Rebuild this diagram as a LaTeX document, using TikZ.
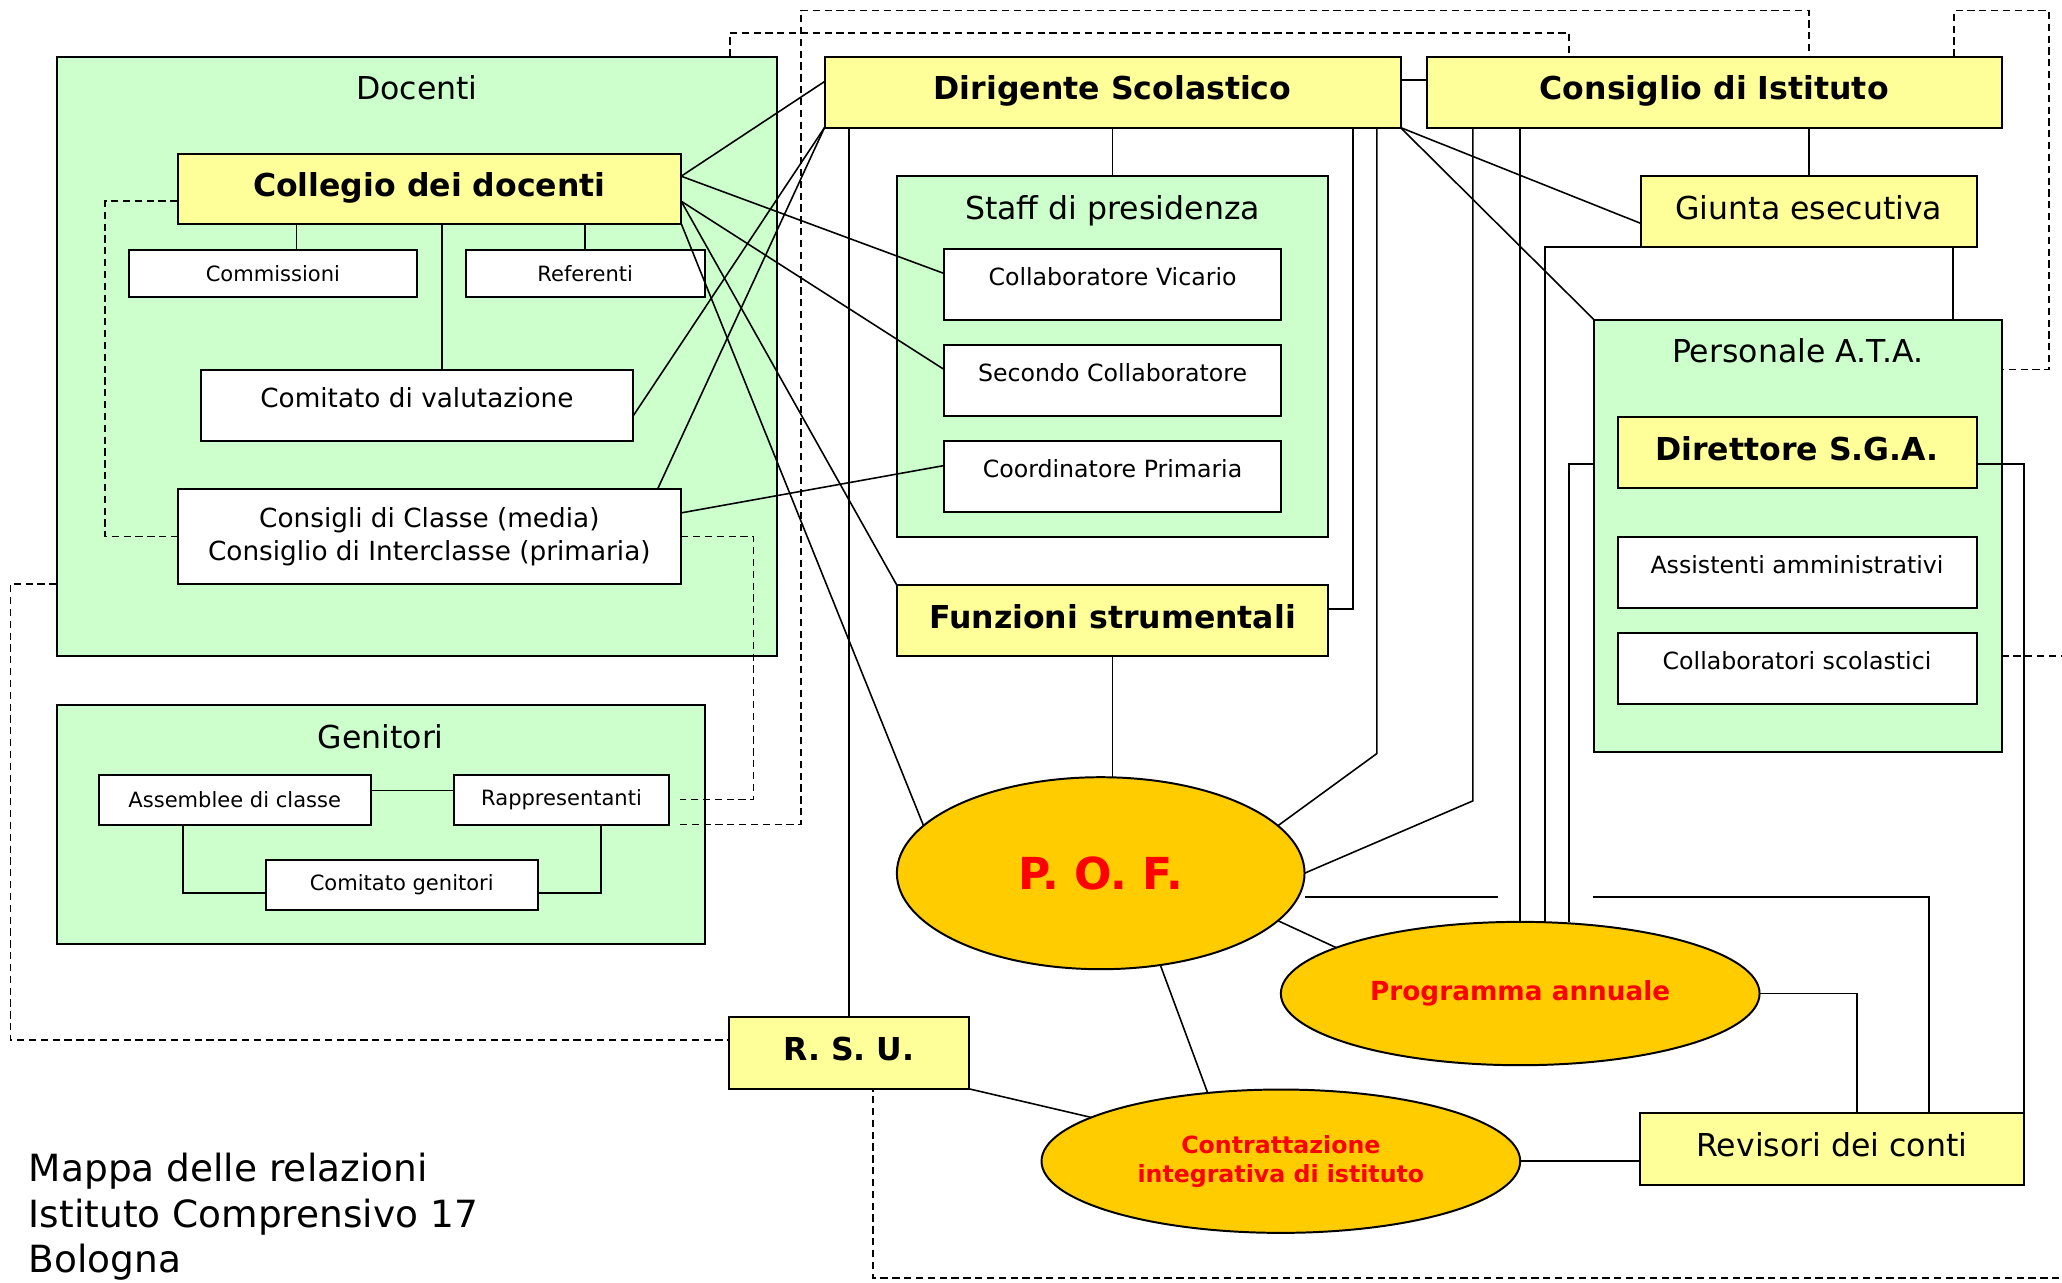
\documentclass[tikz,border=0pt]{standalone}
\usepackage{fontspec}
\setmainfont{DejaVu Sans}
\usetikzlibrary{
    positioning,
    calc,
    shapes.geometric,
}

\definecolor{giallo}{HTML}{FFFF99}
\definecolor{verde}{HTML}{CCFFCC}
\definecolor{arancio}{HTML}{FFCC00}

\begin{document}
\begin{tikzpicture}[
    x=1pt, y=-1pt,
    every node/.style={inner sep=0pt, outer sep=0pt},
    area/.style={draw, line width=1.5pt, fill=verde},
    titolo/.style={font=\fontsize{24}{28}\selectfont},
    gialla/.style={draw, line width=1.5pt, fill=giallo, minimum height=54pt,
                text height=18pt, text depth=6pt, font=\fontsize{24}{28}\selectfont\bfseries},
    giallan/.style={gialla, font=\fontsize{24}{28}\selectfont},
    bianca/.style={draw, line width=1.5pt, fill=white, minimum width=256pt, minimum height=54pt,
                text depth=12pt, font=\fontsize{18}{22}\selectfont},
    media/.style={draw, line width=1.5pt, fill=white, align=center, font=\fontsize{20}{25}\selectfont},
    piccola/.style={draw, line width=1.5pt, fill=white, minimum height=36pt, font=\fontsize{16}{19}\selectfont},
    ovale/.style={ellipse, draw, line width=1.5pt, fill=arancio, text=red, align=center,
                font=\fontsize{18}{22}\selectfont\bfseries},
    conn/.style={line width=1.2pt},
    rel/.style={line width=1.4pt, dash pattern=on 5.5pt off 3.5pt},
]
\useasboundingbox (0,0) rectangle (1568,975);

% Docenti
\node[area, minimum width=548pt, minimum height=456pt,
      label={[titolo, anchor=base, yshift=-33pt]north:Docenti}] (docenti) at (317,271) {};
\node[gialla, minimum width=383pt, minimum height=53pt] (collegio) at (326.5,143.5) {Collegio dei docenti};
\node[piccola, minimum width=219pt] (commissioni) at (207.5,208) {Commissioni};
\node[piccola, minimum width=182pt, right=37pt of commissioni] (referenti) {Referenti};
\node[media, minimum width=328pt, minimum height=54pt, text depth=11pt] (comitatoval) at (317,308) {Comitato di valutazione};
\node[media, minimum width=383pt, minimum height=72pt] (consigli) at (326.5,408)
     {Consigli di Classe (media)\\Consiglio di Interclasse (primaria)};

% Genitori
\node[area, minimum width=493pt, minimum height=182pt,
      label={[titolo, anchor=base, yshift=-33pt]north:Genitori}] (genitori) at (289.5,627) {};
\node[piccola, minimum width=207pt, minimum height=38pt] (assemblee) at (178.5,608) {Assemblee di classe};
\node[piccola, minimum width=164pt, minimum height=38pt, right=63pt of assemblee] (rappresentanti) {Rappresentanti};
\node[piccola, minimum width=207pt, minimum height=38pt] (comitatogen) at (305.5,673) {Comitato genitori};

% Dirigente e staff
\node[gialla, minimum width=438pt] (dirigente) at (846,70) {Dirigente Scolastico};
\node[gialla, minimum width=437pt, right=20pt of dirigente] (consiglio) {Consiglio di Istituto};
\node[area, minimum width=328pt, minimum height=274pt,
      label={[titolo, anchor=base, yshift=-33pt]north:Staff di presidenza}] (staff) at (846,271) {};
\node[bianca] (vicario) at (846,216) {Collaboratore Vicario};
\node[bianca, below=19pt of vicario] (secondo) {Secondo Collaboratore};
\node[bianca, below=19pt of secondo] (coordinatore) {Coordinatore Primaria};
\node[gialla, minimum width=328pt, below=37pt of staff] (funzioni) {Funzioni strumentali};

% Giunta e A.T.A.
\node[giallan, minimum width=255pt] (giunta) at (1375.5,161) {Giunta esecutiva};
\node[area, minimum width=310pt, minimum height=329pt,
      label={[titolo, anchor=base, yshift=-33pt]north:Personale A.T.A.}] (ata) at (1367,407.5) {};
\node[gialla, minimum width=273pt] (direttore) at (1366.5,344) {Direttore S.G.A.};
\node[bianca, minimum width=273pt, below=37pt of direttore] (assistenti) {Assistenti amministrativi};
\node[bianca, minimum width=273pt, below=19pt of assistenti] (collabscol) {Collaboratori scolastici};

% Documenti
\node[ovale, minimum width=310pt, minimum height=146pt, font=\fontsize{33.5}{38}\selectfont\bfseries] (pof) at (837,664) {P. O. F.};
\node[ovale, minimum width=364pt, minimum height=109pt, font=\fontsize{20}{24}\selectfont\bfseries] (programma) at (1156,755.5) {Programma annuale};
\node[ovale, minimum width=364pt, minimum height=109pt] (contratt) at (974,883) {Contrattazione\\integrativa di istituto};
\node[gialla, minimum width=183pt, minimum height=55pt] (rsu) at (645.5,800.5) {R. S. U.};
\node[giallan, minimum width=292pt, minimum height=55pt] (revisori) at (1393,873.5) {Revisori dei conti};

% Titolo
\node[anchor=north west, align=left, font=\fontsize{28.5}{34.5}\selectfont] (mappa) at (22,877)
     {Mappa delle relazioni\\Istituto Comprensivo 17\\Bologna};

\coordinate (ponteA) at (1139,682);
\coordinate (ponteB) at (1211,682);

% Lines
\draw[conn] ([xshift=18pt]commissioni.north) -- ([xshift=18pt]commissioni.north |- collegio.south);
\draw[conn] (referenti.north) -- (referenti.north |- collegio.south);
\draw[conn] ([xshift=19pt]comitatoval.north) -- ([xshift=19pt]comitatoval.north |- collegio.south);
\draw[conn] ([yshift=7pt]assemblee.east) -- ([yshift=7pt]rappresentanti.west);
\draw[conn] ([xshift=-39.5pt]assemblee.south) |- ([yshift=-6pt]comitatogen.west);
\draw[conn] ([xshift=30pt]rappresentanti.south) |- ([yshift=-6pt]comitatogen.east);

\draw[conn] ([yshift=9.5pt]collegio.east) -- ([yshift=8pt]dirigente.west);
\draw[conn] ([yshift=9.5pt]collegio.east) -- ([yshift=8pt]vicario.west);
\draw[conn] ([yshift=-9.5pt]collegio.east) -- ([yshift=8pt]secondo.west);
\draw[conn] ([yshift=-9.5pt]collegio.east) -- (funzioni.north west);
\draw[conn] (collegio.south east) -- (pof.165);
\draw[conn] ([yshift=18pt]consigli.east) -- ([yshift=8pt]coordinatore.west);
\draw[conn] (dirigente.south west) -- ([yshift=-9pt]comitatoval.east);
\draw[conn] (dirigente.south west) -- ([xshift=-18pt]consigli.north east);
\draw[conn] (rsu.north |- dirigente.south) -- (rsu.north);

\draw[conn] ([yshift=9pt]dirigente.east) -- ([yshift=9pt]consiglio.west);
\draw[conn] (dirigente.south) -- (staff.north);
\draw[conn] ([xshift=-36pt]dirigente.south east) |- ([yshift=9pt]funzioni.east);
\draw[conn] ([xshift=-18pt]dirigente.south east) -- ++(0,476) -- (pof.15);
\draw[conn] (dirigente.south east) -- ([yshift=-9pt]giunta.west);
\draw[conn] (dirigente.south east) -- (ata.north west);
\draw[conn] (funzioni.south) -- ([yshift=-0.5pt]pof.north -| funzioni.south);

\draw[conn] ([xshift=35pt]consiglio.south west) -- ++(0,512) -- (pof.east);
\draw[conn] (programma.north |- consiglio.south) -- (programma.north);
\draw[conn] (giunta.north |- consiglio.south) -- (giunta.north);
\draw[conn] (giunta.south west) -| ([xshift=19pt]programma.north);
\draw[conn] ([xshift=-18pt]giunta.south east) -- ([xshift=-18pt]giunta.south east |- ata.north);
\draw[conn] ([yshift=-9pt]direttore.west -| ata.west) -| ([xshift=37pt]programma.north);
\draw[conn] ([yshift=-9pt]direttore.east) -| (revisori.north east);

\draw[conn] ([yshift=-18pt]pof.east) -- (ponteA);
\draw[conn] (ponteB) -| ([xshift=74pt]revisori.north);
\draw[conn] (pof.-15) -- (programma.166);
\draw[conn] (pof.-57) -- (contratt.137);
\draw[conn] (rsu.south east) -- (contratt.167);
\draw[conn] (programma.east) -| ([xshift=19pt]revisori.north);
\draw[conn] (contratt.east) -- (contratt.east -| revisori.west);

% Dashed relations
\draw[rel] ([yshift=-9.5pt]collegio.west) -- ++(-55,0) |- (consigli.west);
\draw[rel] (consigli.east) -- ++(55,0) |- ([xshift=8pt]rappresentanti.east);
\draw[rel] ([xshift=8pt]rappresentanti.south east) -- ++(92,0) -- ++(0,-619) -| (giunta.north |- consiglio.north);
\draw[rel] ([xshift=-36pt]docenti.north east) -- ++(0,-18) -| ([xshift=108pt]consiglio.north west);
\draw[rel] ([xshift=-36pt]consiglio.north east) -- ++(0,-35) -- ++(72,0) |- ([yshift=-38pt]ata.north east);
\draw[rel] ([yshift=-91.5pt]ata.east) -- ++(60,0) -- ++(0,473) -| ([xshift=18.5pt]rsu.south);
\draw[rel] ([yshift=-173pt]docenti.west) -- ++(-35,0) |- ([yshift=9.5pt]rsu.west);

\end{tikzpicture}
\end{document}
